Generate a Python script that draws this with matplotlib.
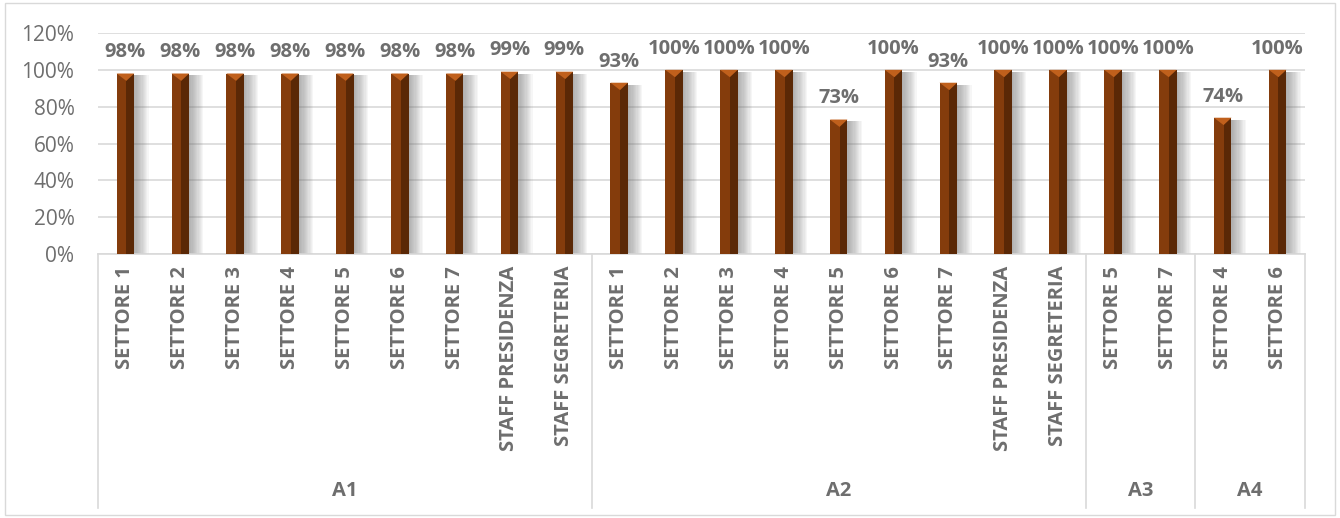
import numpy as np
import matplotlib.pyplot as plt
from matplotlib.patches import Polygon
import matplotlib.transforms as mtransforms

# Data
groups = ["A1", "A2", "A3", "A4"]
group_labels = [
    ["SETTORE 1", "SETTORE 2", "SETTORE 3", "SETTORE 4", "SETTORE 5", "SETTORE 6",
     "SETTORE 7", "STAFF PRESIDENZA", "STAFF SEGRETERIA"],
    ["SETTORE 1", "SETTORE 2", "SETTORE 3", "SETTORE 4", "SETTORE 5", "SETTORE 6",
     "SETTORE 7", "STAFF PRESIDENZA", "STAFF SEGRETERIA"],
    ["SETTORE 5", "SETTORE 7"],
    ["SETTORE 4", "SETTORE 6"],
]
group_values = [
    [0.98, 0.98, 0.98, 0.98, 0.98, 0.98, 0.98, 0.99, 0.99],
    [0.93, 1.00, 1.00, 1.00, 0.73, 1.00, 0.93, 1.00, 1.00],
    [1.00, 1.00],
    [0.74, 1.00],
]

labels = [l for g in group_labels for l in g]
values = np.array([v for g in group_values for v in g])
x = np.arange(len(values))

plt.rcParams['font.family'] = ['Open Sans', 'DejaVu Sans']
gray = '#6e6e6e'
face = '#843C0C'
dark = '#5A2806'
light = '#C0601C'

fig = plt.figure(figsize=(13.4, 5.18), dpi=100)
ax = fig.add_axes([98 / 1340, 1 - 254 / 518, 1207 / 1340, 221 / 518])

w = 0.32
# shadows to the right of each bar
for k in range(12):
    ax.bar(x + w / 2, values - 0.01, width=0.02 + k * 0.022, color='#707070',
           alpha=0.06, linewidth=0, zorder=2, align='edge')
# main face
ax.bar(x, values, width=w, color=face, linewidth=0, zorder=3)
# darker right side
ax.bar(x + w * 0.05, values, width=w * 0.45, color=dark, linewidth=0, zorder=4, align='edge')

# top bevel triangles and value labels
for xi, v in zip(x, values):
    tri = Polygon([[xi - w / 2, v], [xi + w / 2, v], [xi + w * 0.05, v - 0.04]],
                  closed=True, color=light, zorder=5, linewidth=0)
    ax.add_patch(tri)
    ax.text(xi, v + 0.115, f"{v * 100:.0f}%", ha='center', va='center',
            fontsize=14.5, fontweight='bold', color=gray)

ax.set_xlim(-0.5, len(values) - 0.5)
ax.set_ylim(0, 1.2)
ax.set_yticks(np.arange(0, 1.21, 0.2))
ax.set_yticklabels([f"{int(round(t * 100))}%" for t in np.arange(0, 1.21, 0.2)],
                   fontsize=15, color=gray)
ax.yaxis.grid(True, color='#D9D9D9', linewidth=1.2, zorder=0)
ax.set_axisbelow(True)
ax.tick_params(axis='y', length=0, pad=17)
ax.tick_params(axis='x', length=0)
ax.set_xticks([])
for s in ['top', 'right', 'left']:
    ax.spines[s].set_visible(False)
ax.spines['bottom'].set_color('#D9D9D9')
ax.spines['bottom'].set_linewidth(1.2)

trans = mtransforms.blended_transform_factory(ax.transData, ax.transAxes)
ax_h = 221
for xi, lab in zip(x, labels):
    ax.text(xi, -12 / ax_h, lab, rotation=90, ha='center', va='top', transform=trans,
            fontsize=14.5, fontweight='bold', color=gray)

start = 0
bounds = [-0.5]
for g, gl in zip(groups, group_labels):
    n = len(gl)
    ax.text(start + (n - 1) / 2, -237 / ax_h, g, ha='center', va='center', transform=trans,
            fontsize=14.5, fontweight='bold', color=gray)
    start += n
    bounds.append(start - 0.5)
for b in bounds:
    ax.plot([b, b], [0, -254 / ax_h], color='#D9D9D9', linewidth=1.2, transform=trans,
            clip_on=False)

fig.patches.append(plt.Rectangle((5 / 1340, 3 / 518), 1330 / 1340, 512 / 518, fill=False,
                                 edgecolor='#D9D9D9', linewidth=1, transform=fig.transFigure))

fig.savefig('out.png', dpi=100)
